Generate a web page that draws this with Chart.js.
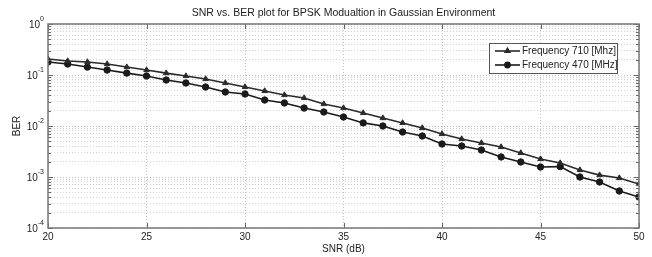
<!DOCTYPE html>
<html>
<head>
<meta charset="utf-8">
<script src="https://cdn.jsdelivr.net/npm/chart.js@4.4.1/dist/chart.umd.min.js"></script>
<style>
  html, body { margin: 0; padding: 0; background: #fff; }
  #wrap { width: 652px; height: 257px; }
</style>
</head>
<body>
<div id="wrap"><canvas id="berChart" width="652" height="257"></canvas></div>
<script>
// SNR values (dB)
const snr = [20,21,22,23,24,25,26,27,28,29,30,31,32,33,34,35,36,37,38,39,40,41,42,43,44,45,46,47,48,49,50];
// BER
const ber710 = [0.206,0.188,0.180,0.164,0.143,0.125,0.109,0.0955,0.0835,0.0697,0.0582,0.0486,0.0405,0.0354,0.0270,0.0225,0.0180,0.0143,0.0115,0.00914,0.00697,0.00556,0.00464,0.00388,0.00296,0.00225,0.00188,0.00137,0.00109,0.000955,0.00073];
const ber470 = [0.180,0.164,0.143,0.125,0.109,0.0955,0.0798,0.0697,0.0582,0.0464,0.0424,0.0323,0.0283,0.0225,0.0188,0.0150,0.0115,0.0100,0.00762,0.00637,0.00444,0.00405,0.00338,0.00247,0.00197,0.00157,0.00160,0.00100,0.000798,0.000531,0.000405];
const seriesNames = ['Frequency 710 [Mhz]', 'Frequency 470 [MHz]'];
const xTicks = [20,25,30,35,40,45,50];
const yTickExps = [0,-1,-2,-3,-4];
const chartTitle = 'SNR vs. BER plot for BPSK Modualtion in Gaussian Environment';

const FONT = 'Liberation Sans, Arial, sans-serif';
const INK = '#222';

// all log-decade sub ticks between 1e-4 and 1
function logTicks() {
  const out = [];
  for (let e = -4; e < 0; e++) {
    for (let m = 1; m <= 9; m++) out.push({ value: m * Math.pow(10, e) });
  }
  out.push({ value: 1 });
  return out;
}

// title centred over the axes (matlab style), box, inner ticks, 10^n labels
const axesFrame = {
  id: 'axesFrame',
  afterDraw(chart) {
    const { ctx, chartArea: a, scales } = chart;
    ctx.save();

    ctx.fillStyle = INK;
    ctx.font = '10.5px ' + FONT;
    ctx.textAlign = 'center';
    ctx.textBaseline = 'middle';
    ctx.fillText(chartTitle, (a.left + a.right) / 2, 13);

    ctx.strokeStyle = '#666';
    ctx.lineWidth = 1;
    ctx.beginPath();
    scales.x.ticks.forEach(t => {
      const px = Math.round(scales.x.getPixelForValue(t.value)) + 0.5;
      ctx.moveTo(px, a.bottom); ctx.lineTo(px, a.bottom - 5);
      ctx.moveTo(px, a.top); ctx.lineTo(px, a.top + 5);
    });
    scales.y.ticks.forEach(t => {
      const py = Math.round(scales.y.getPixelForValue(t.value)) + 0.5;
      const major = Math.abs(Math.log10(t.value) % 1) < 1e-9;
      const len = major ? 5 : 3;
      ctx.moveTo(a.left, py); ctx.lineTo(a.left + len, py);
      ctx.moveTo(a.right, py); ctx.lineTo(a.right - len, py);
    });
    ctx.stroke();
    ctx.lineWidth = 1.5;
    ctx.strokeStyle = '#777';
    ctx.strokeRect(a.left, a.top, a.right - a.left, a.bottom - a.top);

    ctx.fillStyle = INK;
    ctx.textBaseline = 'middle';
    yTickExps.forEach(e => {
      const py = scales.y.getPixelForValue(Math.pow(10, e));
      const exp = String(e);
      ctx.font = '7px ' + FONT;
      const ew = ctx.measureText(exp).width;
      ctx.textAlign = 'left';
      ctx.fillText(exp, a.left - 4 - ew, py - 5);
      ctx.font = '10px ' + FONT;
      ctx.textAlign = 'right';
      ctx.fillText('10', a.left - 4 - ew, py + 1);
    });
    ctx.restore();
  }
};

// legend box inside the plot, upper right
const insideLegend = {
  id: 'insideLegend',
  afterDraw(chart) {
    const { ctx } = chart;
    const bx = 489, by = 43, bw = 128, bh = 30;
    ctx.save();
    ctx.fillStyle = '#fff';
    ctx.fillRect(bx, by, bw, bh);
    ctx.strokeStyle = '#555';
    ctx.lineWidth = 1;
    ctx.strokeRect(bx + 0.5, by + 0.5, bw, bh);
    chart.data.datasets.forEach((ds, i) => {
      const y = by + 8 + i * 14;
      ctx.strokeStyle = ds.borderColor;
      ctx.lineWidth = ds.borderWidth;
      ctx.beginPath();
      ctx.moveTo(bx + 6, y); ctx.lineTo(bx + 31, y);
      ctx.stroke();
      ctx.fillStyle = ds.backgroundColor;
      Chart.helpers.drawPoint(ctx, {
        pointStyle: ds.pointStyle,
        radius: ds.pointRadius - 0.6,
        borderWidth: 1
      }, bx + 18.5, y);
      ctx.fillStyle = INK;
      ctx.font = '10px ' + FONT;
      ctx.textAlign = 'left';
      ctx.textBaseline = 'middle';
      ctx.fillText(ds.label, bx + 33, y + 0.5);
    });
    ctx.restore();
  }
};

const ctx = document.getElementById('berChart').getContext('2d');
new Chart(ctx, {
  type: 'line',
  data: {
    datasets: [
      {
        label: seriesNames[0],
        data: snr.map((s, i) => ({ x: s, y: ber710[i] })),
        borderColor: '#2a2a2a',
        backgroundColor: '#2a2a2a',
        borderWidth: 1.6,
        pointStyle: 'triangle',
        pointRadius: 3.2,
        pointBorderWidth: 1,
        tension: 0
      },
      {
        label: seriesNames[1],
        data: snr.map((s, i) => ({ x: s, y: ber470[i] })),
        borderColor: '#1a1a1a',
        backgroundColor: '#1a1a1a',
        borderWidth: 1.6,
        pointStyle: 'circle',
        pointRadius: 3.2,
        pointBorderWidth: 1,
        tension: 0
      }
    ]
  },
  options: {
    responsive: false,
    animation: false,
    devicePixelRatio: 1,
    layout: { padding: { left: 0, right: 13, top: 24, bottom: 0 } },
    plugins: {
      legend: { display: false },
      tooltip: { enabled: false },
      title: { display: false }
    },
    scales: {
      x: {
        type: 'linear',
        min: 20,
        max: 50,
        afterBuildTicks(scale) { scale.ticks = xTicks.map(v => ({ value: v })); },
        afterFit(scale) { scale.height = 29; },
        ticks: { color: INK, font: { family: FONT, size: 10 }, padding: 3, maxRotation: 0 },
        grid: { color: '#c4c4c4', lineWidth: 1, drawTicks: false },
        border: { display: false, dash: [1, 2] },
        title: {
          display: true, text: 'SNR (dB)', color: INK,
          font: { family: FONT, size: 10 }, padding: { top: 0, bottom: 2 }
        }
      },
      y: {
        type: 'logarithmic',
        min: 1e-4,
        max: 1,
        afterBuildTicks(scale) { scale.ticks = logTicks(); },
        afterFit(scale) { scale.width = 48; },
        ticks: { display: false },
        grid: {
          drawTicks: false,
          lineWidth: 1,
          color: c => {
            const v = c.tick ? c.tick.value : 1;
            return Math.abs(Math.log10(v) % 1) < 1e-9 ? '#bdbdbd' : '#d2d2d2';
          }
        },
        border: { display: false, dash: [1, 2] },
        title: {
          display: true, text: 'BER', color: INK,
          font: { family: FONT, size: 10 }, padding: { top: 11, bottom: 0 }
        }
      }
    }
  },
  plugins: [axesFrame, insideLegend]
});
</script>
</body>
</html>
